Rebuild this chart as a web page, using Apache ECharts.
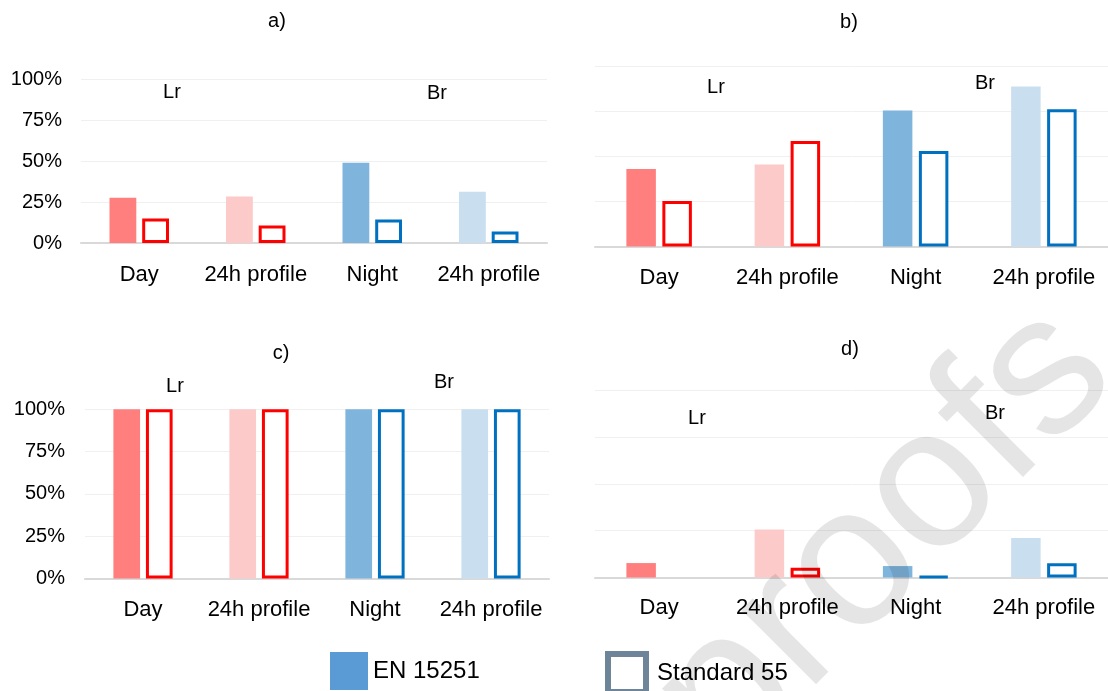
<!DOCTYPE html>
<html>
<head>
<meta charset="utf-8">
<script src="https://cdn.jsdelivr.net/npm/echarts@6/dist/echarts.min.js"></script>
<style>
html, body { margin: 0; padding: 0; background: #fff; }
#myChart { width: 1108px; height: 691px; }
</style>
</head>
<body>
<div id="myChart"></div>
<script>
// categories and values (percent)
const categories = ['Day', '24h profile', 'Night', '24h profile'];
const enA = [27.6, 28.4, 48.9, 31.2];
const stdA = [14.9, 10.7, 14.3, 7.0];
const enB = [42.9, 45.4, 75.4, 88.7];
const stdB = [25.2, 58.4, 52.9, 76.1];
const enC = [100, 100, 100, 100];
const stdC = [100, 100, 100, 100];
const enD = [7.7, 25.6, 6.1, 21.1];
const stdD = [0, 5.2, 0.6, 7.6];
const yTicks = [0, 25, 50, 75, 100];
const panelNames = ['a)', 'b)', 'c)', 'd)'];
const groupNames = ['Lr', 'Br'];
const legendNames = ['EN 15251', 'Standard 55'];

// colours per category
const fillColors = ['#ff7f7f', '#fdcaca', '#7fb4dd', '#c9dff0'];
const lineColors = ['#ff0000', '#ff0000', '#0070c0', '#0070c0'];
const FONT = 'Liberation Sans, Arial, sans-serif';

// panel layout (px)
const grids = [
    { left: 81, top: 79, width: 466, height: 164 },
    { left: 595, top: 66, width: 520, height: 180.5 },
    { left: 85, top: 409.3, width: 464, height: 169.3 },
    { left: 595, top: 390, width: 520, height: 187.5 }
];
const titlePos = [[277, 21], [849, 22], [281, 353], [850, 349]];
const groupPos = [
    [[172, 92], [437, 93]],
    [[716, 87], [985, 83]],
    [[175, 386], [444, 382]],
    [[697, 418], [995, 413]]
];
const showYLabels = [true, false, true, false];
const xLabelMargin = [21, 20, 20, 19];
const panelData = [[enA, stdA], [enB, stdB], [enC, stdC], [enD, stdD]];

let myChart = echarts.init(document.getElementById('myChart'));

let xAxis = [], yAxis = [], series = [], graphic = [];
grids.forEach((g, i) => {
    xAxis.push({
        type: 'category',
        gridIndex: i,
        data: categories,
        axisTick: { show: false },
        axisLine: { lineStyle: { color: '#d9d9d9', width: 2 } },
        axisLabel: { color: '#000', fontSize: 22, fontFamily: FONT, margin: xLabelMargin[i], interval: 0 }
    });
    yAxis.push({
        type: 'value',
        gridIndex: i,
        min: yTicks[0],
        max: yTicks[yTicks.length - 1],
        interval: yTicks[1] - yTicks[0],
        axisLine: { show: false },
        axisTick: { show: false },
        axisLabel: {
            show: showYLabels[i],
            formatter: '{value}%',
            color: '#000',
            fontSize: 20,
            fontFamily: FONT,
            margin: i == 0 ? 19 : 20
        },
        splitLine: { lineStyle: { color: '#f0f0f0', width: 1 } }
    });
    let en = panelData[i][0], std = panelData[i][1];
    series.push({
        name: legendNames[0],
        type: 'bar',
        xAxisIndex: i,
        yAxisIndex: i,
        barWidth: '23%',
        barGap: '22%',
        data: en.map((v, k) => ({ value: v, itemStyle: { color: fillColors[k] } }))
    });
    series.push({
        name: legendNames[1],
        type: 'bar',
        xAxisIndex: i,
        yAxisIndex: i,
        barWidth: '23%',
        barGap: '22%',
        data: std.map((v, k) => ({
            value: v,
            itemStyle: { color: '#fff', borderColor: lineColors[k], borderWidth: v > 0 ? 3 : 0 }
        }))
    });
    // panel letter
    graphic.push({
        type: 'text', x: titlePos[i][0], y: titlePos[i][1],
        style: { text: panelNames[i], fill: '#000', fontSize: 20, fontFamily: FONT, align: 'center', verticalAlign: 'middle' }
    });
    // Lr / Br
    groupPos[i].forEach((p, k) => {
        graphic.push({
            type: 'text', x: p[0], y: p[1],
            style: { text: groupNames[k], fill: '#000', fontSize: 20, fontFamily: FONT, align: 'center', verticalAlign: 'middle' }
        });
    });
});

// watermark
graphic.push({
    type: 'text', x: 885, y: 537, rotation: Math.PI / 4, z: 100, silent: true,
    style: { text: 'proofs', fill: 'rgba(0,0,0,0.1)', fontSize: 200, fontFamily: FONT, align: 'center', verticalAlign: 'middle' }
});

myChart.setOption({
    animation: false,
    grid: grids,
    xAxis: xAxis,
    yAxis: yAxis,
    series: series,
    graphic: graphic,
    legend: [
        {
            left: 330, top: 652, padding: 0,
            itemWidth: 38, itemHeight: 38,
            textStyle: { color: '#000', fontSize: 24, fontFamily: FONT },
            data: [{ name: legendNames[0], icon: 'rect', itemStyle: { color: '#5b9bd5', borderWidth: 0 } }]
        },
        {
            left: 605, top: 651, padding: 0,
            itemWidth: 38, itemHeight: 38,
            textStyle: { color: '#000', fontSize: 24, fontFamily: FONT, padding: [0, 0, 0, 6] },
            data: [{ name: legendNames[1], icon: 'rect', itemStyle: { color: '#fff', borderColor: '#6d8499', borderWidth: 6 } }]
        }
    ]
});
</script>
</body>
</html>
